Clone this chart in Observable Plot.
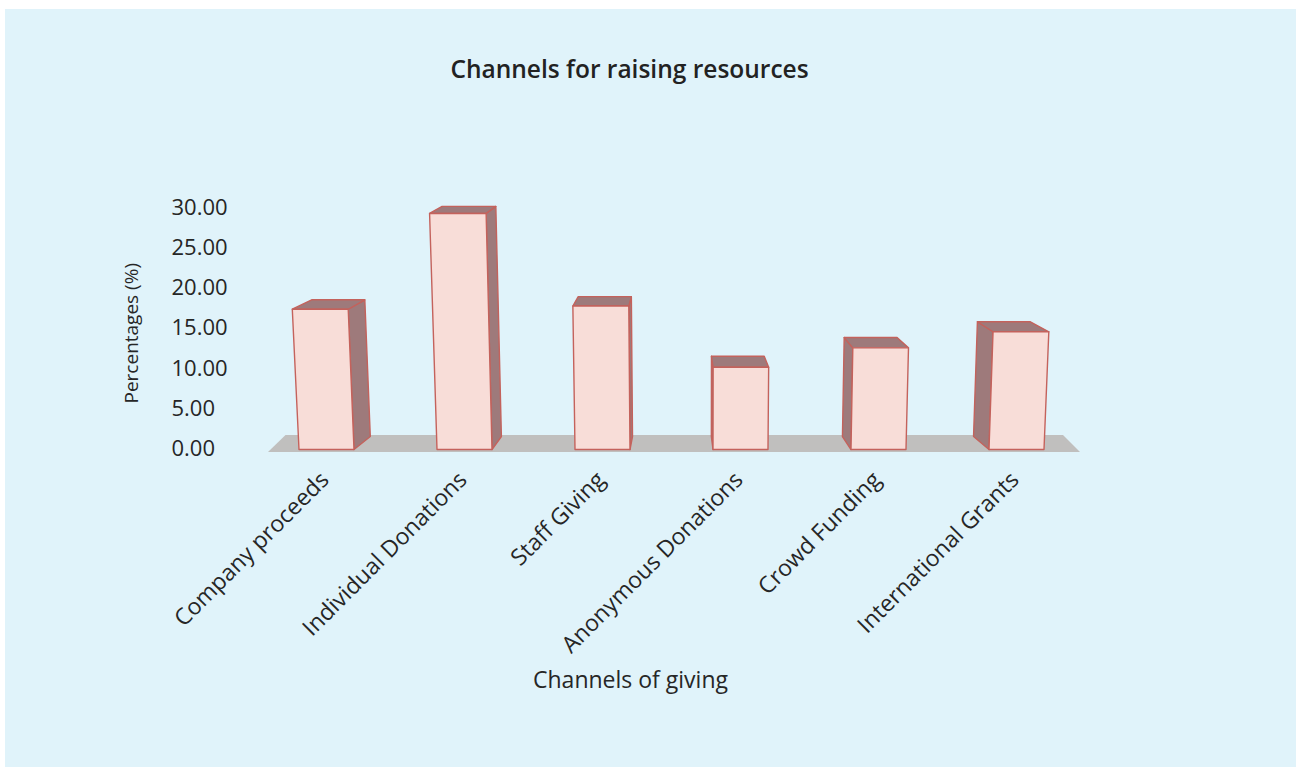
<!DOCTYPE html>
<html><head><meta charset="utf-8">
<script src="https://cdn.jsdelivr.net/npm/d3@7"></script>
<script src="https://cdn.jsdelivr.net/npm/@observablehq/plot@0.6"></script>
<style>
html,body{margin:0;padding:0;background:#fff;width:1296px;height:767px;overflow:hidden;}
#panel{position:absolute;left:5px;top:9px;right:0;bottom:0;background:#e0f3fa;}
#chart{position:absolute;left:0;top:0;}
</style></head><body><div id="panel"></div><div id="chart"></div>
<script>
// ---- data ----
const categories = ["Company proceeds", "Individual Donations", "Staff Giving", "Anonymous Donations", "Crowd Funding", "International Grants"];
const values = [17.3, 29.2, 17.7, 10.1, 12.5, 14.5];
const yTicks = [0, 5, 10, 15, 20, 25, 30];
const titleText = "Channels for raising resources";
const xTitle = "Channels of giving";
const yTitle = "Percentages (%)";
const data = categories.map((c, i) => ({channel: c, value: values[i]}));

// ---- style constants ----
const FONT = "'Open Sans', 'Noto Sans', sans-serif";
const FRONT = "#f8ddd8", SIDE = "#9e7a7b", EDGE = "#c4625c", FLOOR = "#c0bfbe";
const VX = 680, KX = 0.05, VY = -64, KY = 0.0253; // pseudo-perspective
const TILT = 1.2e-4, TCX = 700;

function poly(pts) { return "M" + pts.map(p => p[0].toFixed(2) + "," + p[1].toFixed(2)).join("L") + "Z"; }

function bars3d(index, scales) {
  const x = scales.x, y = scales.y;
  const bw = x.bandwidth();
  const y0 = y(0);
  const back = (p, fx = 1, fy = 1) => [p[0] + fx * KX * (VX - p[0]), p[1] + fy * KY * (VY - p[1])];
  const tilt = (px, py) => px + TILT * (px - TCX) * (y0 - py);
  const g = d3.create("svg:g");
  const [r0, r1] = x.range();
  const fy = y0 + 3.5;
  const FL = [r0 + 10, fy], FR = [r1 - 6, fy];
  g.append("path").attr("d", poly([FL, FR, back(FR, 0.85, 1.3), back(FL, 0.85, 1.3)])).attr("fill", FLOOR);
  for (const d of data) {
    const xl = x(d.channel), xr = xl + bw, yt = y(d.value), yb = y0 + 1;
    const FBL = [xl, yb], FBR = [xr, yb], FTL = [tilt(xl, yt), yt], FTR = [tilt(xr, yt), yt];
    const BBL = back(FBL), BBR = back(FBR), BTL = back(FTL), BTR = back(FTR);
    const side = (xl + xr) / 2 < VX ? [FBR, FTR, BTR, BBR] : [FBL, FTL, BTL, BBL];
    const common = s => s.attr("stroke", EDGE).attr("stroke-width", 1.4).attr("stroke-linejoin", "round");
    common(g.append("path").attr("d", poly(side)).attr("fill", SIDE));
    common(g.append("path").attr("d", poly([FTL, FTR, BTR, BTL])).attr("fill", SIDE));
    common(g.append("path").attr("d", poly([FBL, FBR, FTR, FTL])).attr("fill", FRONT));
  }
  return g.node();
}

const W = 1296, H = 767;
const xRange = [258, 1086], yRange = [448.5, 207];

const chart = Plot.plot({
  width: W, height: H,
  marginLeft: xRange[0], marginRight: W - xRange[1],
  marginTop: yRange[1], marginBottom: H - yRange[0],
  style: {background: "transparent", fontFamily: FONT, color: "#262626", overflow: "visible"},
  x: {domain: categories, range: xRange, paddingInner: 0.6, paddingOuter: 0.3},
  y: {domain: [0, 30], range: yRange},
  marks: [
    Plot.barY(data, {x: "channel", y: "value", fillOpacity: 0}),
    bars3d,
    Plot.axisY({anchor: "left", ticks: yTicks, tickFormat: d3.format(".2f"), tickSize: 0, tickPadding: 3,
      textAnchor: "start", dx: -84, fontSize: 22, fill: "#262626", label: null}),
    Plot.axisX({anchor: "bottom", tickSize: 0, tickRotate: -45, tickPadding: 27, dx: -2, fontSize: 23, fill: "#262626", label: null}),
    Plot.text([titleText], {frameAnchor: "top", lineAnchor: "bottom", dx: -43, dy: -130,
      fontSize: 24.5, fontWeight: 600, fill: "#222", fontFamily: FONT}),
    Plot.text([xTitle], {frameAnchor: "bottom", lineAnchor: "bottom", dx: -42, dy: 238.5,
      fontSize: 23, fill: "#262626", fontFamily: FONT}),
    Plot.text([yTitle], {frameAnchor: "left", rotate: -90, textAnchor: "middle", lineAnchor: "middle",
      dx: -127, dy: 5, fontSize: 19, fill: "#262626", fontFamily: FONT})
  ]
});
document.getElementById("chart").appendChild(chart);
</script></body></html>
